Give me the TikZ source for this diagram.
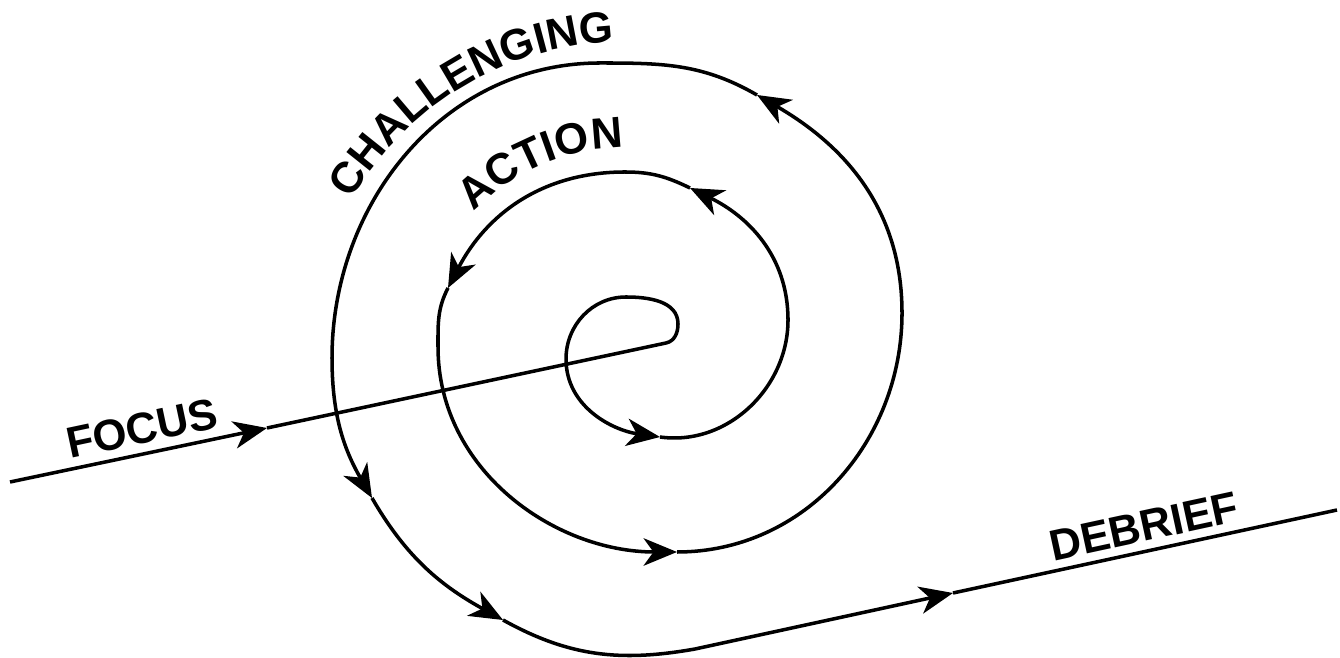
\documentclass[tikz,border=0pt]{standalone}
\usepackage{fontspec}
\newfontfamily\spiralsans{Liberation Sans}
\newcommand\spiralfont{\spiralsans\bfseries\fontsize{12.4}{14}\selectfont}
\usetikzlibrary{arrows.meta,decorations.text}

\begin{document}
\begin{tikzpicture}[x=0.01cm,y=0.01cm,line join=round,
  flow/.style={line width=1pt,-{Stealth[length=9.5pt,width=7.8pt,inset=2.8pt]}},
  plain/.style={line width=1pt},
  word/.style={font=\spiralfont,anchor=base,inner sep=0pt}]
  \useasboundingbox (0,0) rectangle (1340,658);
  % focus line in, spiral out to debrief
  \coordinate (f0) at (10,176);
  \coordinate (fa) at (267,230);
  \coordinate (s0) at (666,315);
  \coordinate (p1) at (678,334);
  \coordinate (p2) at (626,361);
  \coordinate (p3) at (566,299);
  \coordinate (a1) at (660,221);
  \coordinate (p4) at (788,338);
  \coordinate (a2) at (690,470);
  \coordinate (p5) at (625,486);
  \coordinate (a3) at (448,370);
  \coordinate (p6) at (438,311);
  \coordinate (a4) at (677,106);
  \coordinate (p7) at (902,345);
  \coordinate (a5) at (757,563);
  \coordinate (p8) at (600,595);
  \coordinate (p9) at (332,300);
  \coordinate (a6) at (372,160);
  \coordinate (a7) at (503,38);
  \coordinate (p10) at (695,9);
  \coordinate (a8) at (953,65);
  \coordinate (e0) at (1337,148);

  \draw[flow] (f0) -- (fa);
  \draw[flow] (fa) -- (s0) to[out=12,in=270] (p1) to[out=90,in=0] (p2)
    to[out=180,in=90] (p3) to[out=270,in=172] (a1);
  \draw[flow] (a1) to[out=-8,in=270] (p4) to[out=90,in=-26] (a2);
  \draw[flow] (a2) to[out=154,in=0] (p5) to[out=180,in=62.6] (a3);
  \draw[flow] (a3) to[out=242.6,in=90] (p6) to[out=270,in=180] (a4);
  \draw[flow] (a4) to[out=0,in=270] (p7) to[out=90,in=-30] (a5);
  \draw[flow] (a5) to[out=150,in=0] (p8) to[out=180,in=90] (p9)
    to[out=270,in=120] (a6);
  \draw[flow] (a6) to[out=-60,in=151] (a7);
  \draw[flow] (a7) to[out=-29,in=190] (p10) -- (a8);
  \draw[plain] (a8) -- (e0);

  \node[word,rotate=12] (focus) at (145,215) {FOCUS};
  \node[word,rotate=12.2] (debrief) at (1147,117) {DEBRIEF};
  \path[decorate,decoration={text along path,text align=center,
    text={|\spiralfont|CHALLENGING}}]
    (625,301) ++(165:315) arc[start angle=165,end angle=77,radius=315];
  \path[decorate,decoration={text along path,text align=center,
    text={|\spiralfont|ACTION}}]
    (625,298) ++(140:212) arc[start angle=140,end angle=86,radius=212];
\end{tikzpicture}
\end{document}
